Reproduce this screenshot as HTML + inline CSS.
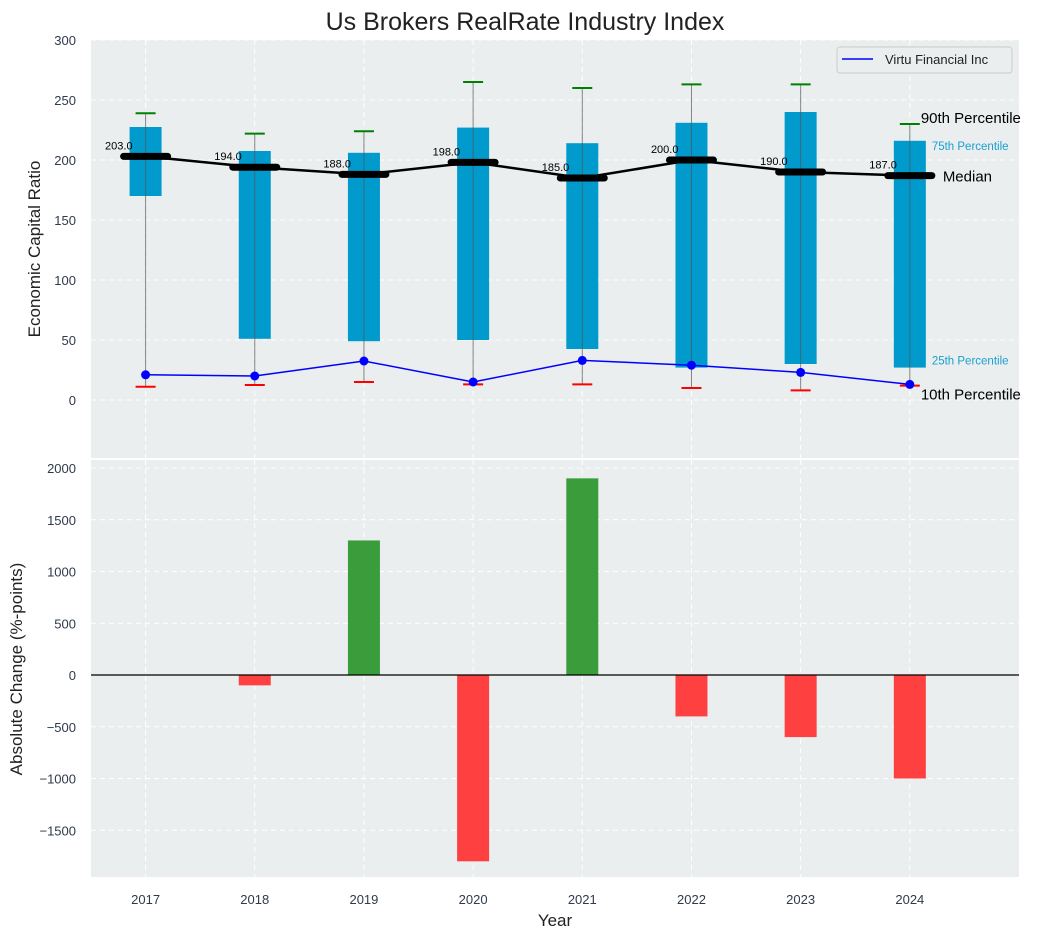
<!DOCTYPE html>
<html><head><meta charset="utf-8"><style>
body{margin:0;background:#fff;font-family:"Liberation Sans",sans-serif}
svg text{font-family:"Liberation Sans",sans-serif}
</style></head><body>
<svg id="c" width="1043" height="940"></svg>
<script>
const years=[2017,2018,2019,2020,2021,2022,2023,2024];
const p10=[11,12.5,15,13,13,10,8,12];
const p25=[170,51,49,50,42.5,27,30,27];
const median=[203,194,188,198,185,200,190,187];
const p75=[227.5,207.5,206,227,214,231,240,216];
const p90=[239,222,224,265,260,263,263,230];
const virtu=[21,20,32.5,15,33,29,23,13];
const changes=[0,-100,1300,-1800,1900,-400,-600,-1000];
const yTicksTop=[0,50,100,150,200,250,300];
const yTicksBot=[-1500,-1000,-500,0,500,1000,1500,2000];

const svg=document.getElementById('c');const NS='http://www.w3.org/2000/svg';
function el(t,a,p){const e=document.createElementNS(NS,t);for(const k in a)e.setAttribute(k,a[k]);(p||svg).appendChild(e);return e;}
const L=91,R=1019,TC='#2f3a4a';
const x=v=>L+(v-2016.5)/(2025-2016.5)*(R-L);
const yT=v=>400-v*1.2;
const yB=v=>675-v*0.1035;
let e=el('rect',{x:L,y:40,width:R-L,height:418,fill:'#eaeeee'});

e=el('rect',{x:L,y:460,width:R-L,height:417,fill:'#eaeeee'});

years.forEach(v=>{[[40,458],[460,877]].forEach(r=>{el('line',{x1:x(v),x2:x(v),y1:r[0],y2:r[1],stroke:'#fff','stroke-dasharray':'5,4','stroke-width':1});});
 e=el('text',{x:x(v),y:904,'text-anchor':'middle','font-size':13,fill:TC});e.textContent=v;
 });
yTicksTop.forEach(v=>{el('line',{x1:L,x2:R,y1:yT(v),y2:yT(v),stroke:'#fff','stroke-dasharray':'5,4'});
 e=el('text',{x:76,y:yT(v)+5,'text-anchor':'end','font-size':13,fill:TC});e.textContent=v;
 });
yTicksBot.forEach(v=>{el('line',{x1:L,x2:R,y1:yB(v),y2:yB(v),stroke:'#fff','stroke-dasharray':'5,4'});
 e=el('text',{x:76,y:yB(v)+5,'text-anchor':'end','font-size':13,fill:TC});e.textContent=(v<0?'\u2212'+(-v):v);
 });
years.forEach((v,i)=>{const cx=x(v),bw=32;
 e=el('rect',{x:cx-bw/2,y:yT(p75[i]),width:bw,height:yT(p25[i])-yT(p75[i]),fill:'#009acd'});
 
 el('line',{x1:cx,x2:cx,y1:yT(p90[i]),y2:yT(p10[i]),stroke:'#555','stroke-width':1,opacity:0.7});
 el('line',{x1:cx-10,x2:cx+10,y1:yT(p90[i]),y2:yT(p90[i]),stroke:'green','stroke-width':2});
 el('line',{x1:cx-10,x2:cx+10,y1:yT(p10[i]),y2:yT(p10[i]),stroke:'red','stroke-width':2});
});
e=el('polyline',{points:years.map((v,i)=>x(v)+','+yT(median[i])).join(' '),fill:'none',stroke:'#000','stroke-width':2.5});

years.forEach((v,i)=>{el('line',{x1:x(v)-22,x2:x(v)+22,y1:yT(median[i]),y2:yT(median[i]),stroke:'#000','stroke-width':7,'stroke-linecap':'round'});
 e=el('text',{x:x(v)-13,y:yT(median[i])-7,'text-anchor':'end','font-size':11,fill:'#000'});e.textContent=median[i].toFixed(1);
 });
e=el('polyline',{points:years.map((v,i)=>x(v)+','+yT(virtu[i])).join(' '),fill:'none',stroke:'#0000ff','stroke-width':1.5});

years.forEach((v,i)=>{e=el('circle',{cx:x(v),cy:yT(virtu[i]),r:4.5,fill:'#0000ff'});
 });
const lx=x(2024);
[['90th Percentile',lx+11,yT(p90[7])-1,15,'#000'],['75th Percentile',lx+22,yT(p75[7])+9,11.5,'#1a9fd0'],['Median',lx+33,yT(median[7])+6,15,'#000'],['25th Percentile',lx+22,yT(p25[7])-3,11.5,'#1a9fd0'],['10th Percentile',lx+11,yT(p10[7])+14,15,'#000']].forEach(a=>{
 e=el('text',{x:a[1],y:a[2],'font-size':a[3],fill:a[4]});e.textContent=a[0];
 });
e=el('g',{});
el('rect',{x:837,y:47,width:175,height:26,rx:3,fill:'#eaeeee',stroke:'#ccc'},e);
el('line',{x1:842,x2:873,y1:59,y2:59,stroke:'#0000ff','stroke-width':1.5},e);
let t=el('text',{x:885,y:64,'font-size':13,fill:'#222'},e);t.textContent='Virtu Financial Inc';
years.forEach((v,i)=>{const c=changes[i];if(c===0)return;
 e=el('rect',{x:x(v)-16,y:Math.min(yB(c),yB(0)),width:32,height:Math.abs(yB(c)-yB(0)),fill:c>0?'#3a9c3a':'#ff4040'});
 });
el('line',{x1:L,x2:R,y1:yB(0),y2:yB(0),stroke:'#000','stroke-width':1.2});
e=el('text',{x:525,y:30,'text-anchor':'middle','font-size':25,fill:'#222'});e.textContent='Us Brokers RealRate Industry Index';

e=el('text',{x:40,y:249,'text-anchor':'middle','font-size':17,fill:'#222',transform:'rotate(-90 40 249)'});e.textContent='Economic Capital Ratio';

e=el('text',{x:22,y:669,'text-anchor':'middle','font-size':17,fill:'#222',transform:'rotate(-90 22 669)'});e.textContent='Absolute Change (%-points)';

e=el('text',{x:555,y:926,'text-anchor':'middle','font-size':17,fill:'#222'});e.textContent='Year';

</script></body></html>
